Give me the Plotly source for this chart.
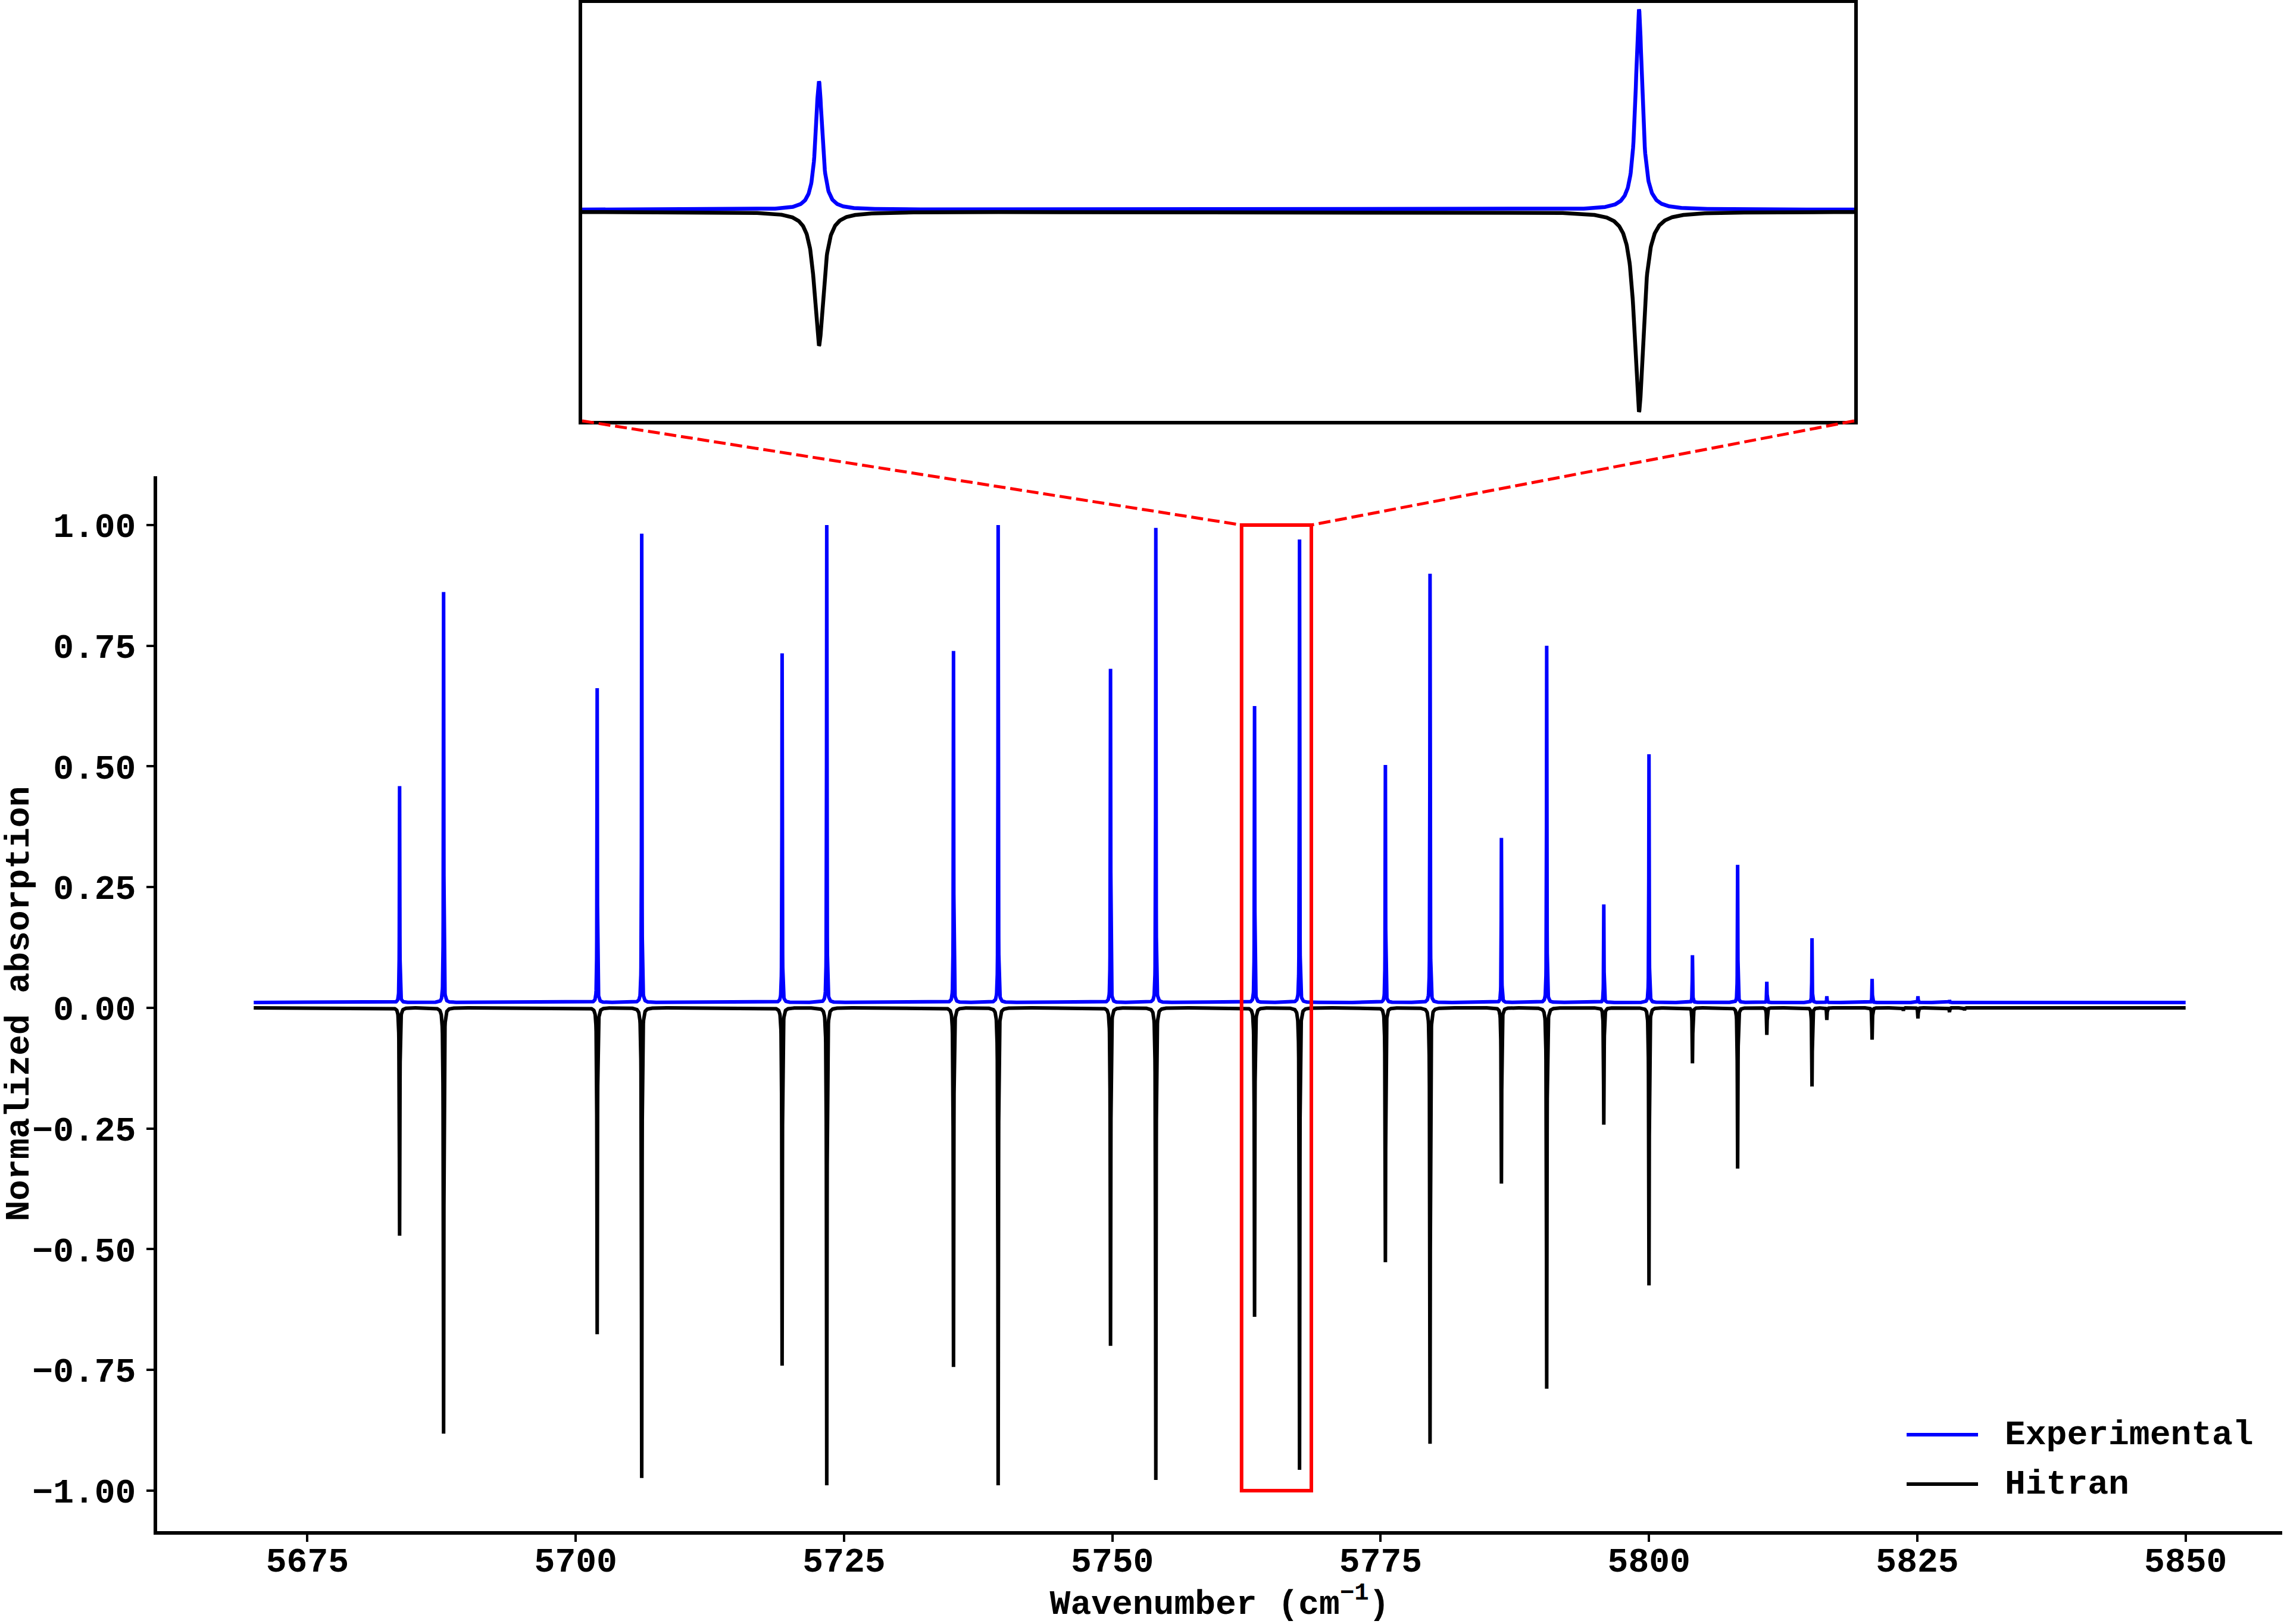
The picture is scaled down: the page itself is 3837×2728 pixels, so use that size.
import numpy as np
import plotly.graph_objects as go

# ---------------- data ----------------
line_centers = [5683.59, 5687.69, 5702.00, 5706.15, 5719.23, 5723.39, 5735.20, 5739.36,
                5749.83, 5754.05, 5763.25, 5767.44, 5775.44, 5779.60, 5786.25, 5790.47,
                5795.79, 5800.00, 5804.05, 5808.26, 5810.98, 5815.19, 5816.57, 5820.79,
                5823.70, 5825.06, 5828.00, 5829.40]
experimental_peak = [0.459, 0.861, 0.662, 0.982, 0.734, 1.000, 0.739, 1.000,
                     0.702, 0.994, 0.625, 0.970, 0.503, 0.899, 0.352, 0.750,
                     0.214, 0.525, 0.109, 0.296, 0.054, 0.144, 0.024, 0.060,
                     0.011, 0.024, 0.016, 0.011]
hitran_peak = [-0.472, -0.882, -0.676, -0.974, -0.741, -0.989, -0.744, -0.989,
               -0.700, -0.978, -0.640, -0.957, -0.527, -0.903, -0.364, -0.789,
               -0.242, -0.575, -0.115, -0.333, -0.056, -0.163, -0.025, -0.066,
               -0.006, -0.022, -0.009, -0.005]
experimental_baseline = 0.011
hitran_baseline = 0.0
spectrum_start, spectrum_end = 5670.0, 5850.0
zoom_start, zoom_end = 5762.04, 5768.54
zoom_ylim = [-1.0, 1.0]
x_ticks = [5675, 5700, 5725, 5750, 5775, 5800, 5825, 5850]
y_ticks = [-1.0, -0.75, -0.5, -0.25, 0.0, 0.25, 0.5, 0.75, 1.0]

# line half widths (cm-1) of the drawn profiles
gamma_exp, gamma_hit = 0.020, 0.028


def profile(x, centers, tops, base, gamma):
    y = np.full_like(x, base, dtype=float)
    for c, t in zip(centers, tops):
        y += (t - base) * gamma ** 2 / ((x - c) ** 2 + gamma ** 2)
    return y


offs = np.array([0, 0.004, 0.008, 0.012, 0.016, 0.02, 0.025, 0.03, 0.04, 0.05, 0.06,
                 0.08, 0.1, 0.13, 0.17, 0.22, 0.3, 0.4, 0.6])
offs = np.concatenate([-offs[::-1], offs])
pts = [np.arange(spectrum_start, spectrum_end + 1e-9, 0.02)]
for c in line_centers:
    pts.append(c + offs)
x_main = np.unique(np.clip(np.concatenate(pts), spectrum_start, spectrum_end))

x_zoom = np.unique(np.concatenate([np.linspace(zoom_start, zoom_end, 3251),
                                   [c for c in line_centers if zoom_start < c < zoom_end]]))

y_exp_main = profile(x_main, line_centers, experimental_peak, experimental_baseline, gamma_exp)
y_hit_main = profile(x_main, line_centers, hitran_peak, hitran_baseline, gamma_hit)
y_exp_zoom = profile(x_zoom, line_centers, experimental_peak, experimental_baseline, gamma_exp)
y_hit_zoom = profile(x_zoom, line_centers, hitran_peak, hitran_baseline, gamma_hit)

# ---------------- figure ----------------
W, H = 3837, 2728
FONT = "Liberation Mono"
FS = 58
BLUE = "#0000ff"

main_x_dom = [264 / W, 3834 / W]
main_y_dom = [1 - 2572 / H, 1 - 800 / H]
main_x_rng = [5661.0, 5859.0]
main_y_rng = [-1.084, 1.101]
ins_x_dom = [978 / W, 3115 / W]
ins_y_dom = [1 - 707 / H, 1 - 5 / H]

fig = go.Figure()
fig.add_trace(go.Scatter(x=x_main, y=y_exp_main, mode="lines", name="Experimental",
                         line=dict(color=BLUE, width=6), showlegend=False))
fig.add_trace(go.Scatter(x=x_main, y=y_hit_main, mode="lines", name="Hitran",
                         line=dict(color="black", width=6), showlegend=False))
fig.add_trace(go.Scatter(x=x_zoom, y=y_exp_zoom, mode="lines", name="Experimental (zoom)",
                         line=dict(color=BLUE, width=6.5), xaxis="x2", yaxis="y2", showlegend=False))
fig.add_trace(go.Scatter(x=x_zoom, y=y_hit_zoom, mode="lines", name="Hitran (zoom)",
                         line=dict(color="black", width=6.5), xaxis="x2", yaxis="y2", showlegend=False))

tickfont = dict(family=FONT, size=FS, color="black", weight="bold")

fig.update_layout(
    template="none",
    width=W, height=H,
    margin=dict(l=0, r=0, t=0, b=0, pad=0),
    paper_bgcolor="white", plot_bgcolor="white",
    showlegend=False,
    font=dict(family=FONT, size=FS, color="black"),
    xaxis=dict(domain=main_x_dom, range=main_x_rng, tickvals=x_ticks, automargin=False,
               showline=True, linewidth=6, linecolor="black", mirror=False,
               ticks="outside", ticklen=12, tickwidth=4, tickcolor="black",
               tickfont=tickfont, ticklabelstandoff=-20,
               showgrid=False, zeroline=False, anchor="y",
               title=dict(text="Wavenumber (cm<sup>\u22121</sup>)",
                          font=dict(family=FONT, size=FS, color="black", weight="bold"),
                          standoff=65)),
    yaxis=dict(domain=main_y_dom, range=main_y_rng, tickvals=y_ticks, tickformat=".2f",
               automargin=False,
               showline=True, linewidth=6, linecolor="black", mirror=False,
               ticks="outside", ticklen=12, tickwidth=4, tickcolor="black",
               tickfont=tickfont, ticklabelstandoff=6,
               showgrid=False, zeroline=False, anchor="x",
               title=dict(text="Normalized absorption",
                          font=dict(family=FONT, size=FS, color="black", weight="bold"),
                          standoff=14)),
    xaxis2=dict(domain=ins_x_dom, range=[zoom_start, zoom_end], showline=True, mirror=True,
                automargin=False,
                linewidth=6, linecolor="black", ticks="", showticklabels=False,
                showgrid=False, zeroline=False, anchor="y2"),
    yaxis2=dict(domain=ins_y_dom, range=zoom_ylim, showline=True, mirror=True,
                automargin=False,
                linewidth=6, linecolor="black", ticks="", showticklabels=False,
                showgrid=False, zeroline=False, anchor="x2"),
)


def to_paper(xv, yv):
    px = main_x_dom[0] + (xv - main_x_rng[0]) / (main_x_rng[1] - main_x_rng[0]) * (main_x_dom[1] - main_x_dom[0])
    py = main_y_dom[0] + (yv - main_y_rng[0]) / (main_y_rng[1] - main_y_rng[0]) * (main_y_dom[1] - main_y_dom[0])
    return px, py


# zoom indicator rectangle in the main axes
fig.add_shape(type="rect", xref="x", yref="y", x0=zoom_start, x1=zoom_end,
              y0=zoom_ylim[0], y1=zoom_ylim[1], line=dict(color="red", width=6),
              fillcolor="rgba(0,0,0,0)")
# connector lines from the inset to the rectangle
for xv, xi in [(zoom_start, ins_x_dom[0]), (zoom_end, ins_x_dom[1])]:
    px, py = to_paper(xv, zoom_ylim[1])
    fig.add_shape(type="line", xref="paper", yref="paper", x0=xi, y0=ins_y_dom[0],
                  x1=px, y1=py, line=dict(color="red", width=5, dash="20px,8px"))

# legend (drawn by hand to match the long line samples)
legend_items = [("Experimental", BLUE, 2410), ("Hitran", "black", 2493)]
for label, col, ypix in legend_items:
    yp = 1 - ypix / H
    fig.add_shape(type="line", xref="paper", yref="paper", x0=3203 / W, x1=3323 / W,
                  y0=yp, y1=yp, line=dict(color=col, width=6))
    fig.add_annotation(xref="paper", yref="paper", x=3366 / W, y=yp, text=label,
                       showarrow=False, xanchor="left", yanchor="middle",
                       font=dict(family=FONT, size=FS, color="black", weight="bold"))

fig.write_html("out.html")
